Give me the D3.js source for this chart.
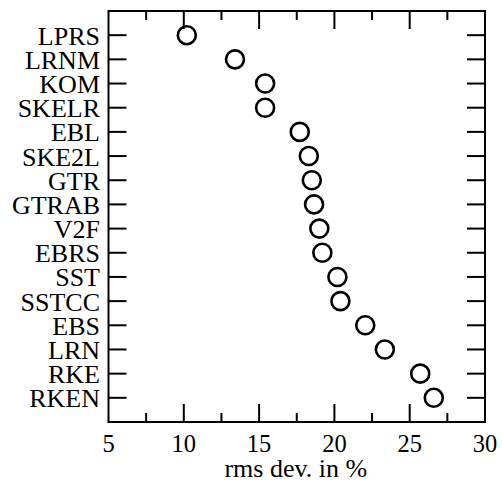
<!DOCTYPE html>
<html>
<head>
<meta charset="utf-8">
<script src="https://cdn.jsdelivr.net/npm/d3@7"></script>
</head>
<body style="margin:0">
<svg id="chart" width="502" height="482" font-family="Liberation Serif"></svg>
<script>
/* data */
const models=["LPRS","LRNM","KOM","SKELR","EBL","SKE2L","GTR","GTRAB","V2F","EBRS","SST","SSTCC","EBS","LRN","RKE","RKEN"];
const rmsDev=[10.2,13.4,15.4,15.4,17.7,18.3,18.5,18.65,19.0,19.2,20.2,20.4,22.05,23.35,25.7,26.6];
const xTicks=[5,10,15,20,25,30];
const xMinor=[7.5,12.5,17.5,22.5,27.5];

const FONT="Liberation Serif";
const svg=d3.select("#chart");
const L=108.5,R=485,T=11,B=422;
const x=d3.scaleLinear().domain([5,30]).range([L,R]);
const y=d3.scalePoint().domain(models).range([T,B]).padding(1);

/* ticks */
const g=svg.append("g").attr("stroke","#000").attr("stroke-width",2);
xTicks.slice(1,-1).forEach(v=>{
  g.append("line").attr("x1",x(v)).attr("x2",x(v)).attr("y1",B).attr("y2",B-18);
  g.append("line").attr("x1",x(v)).attr("x2",x(v)).attr("y1",T).attr("y2",T+18);
});
xMinor.forEach(v=>{
  g.append("line").attr("x1",x(v)).attr("x2",x(v)).attr("y1",B).attr("y2",B-9);
  g.append("line").attr("x1",x(v)).attr("x2",x(v)).attr("y1",T).attr("y2",T+9);
});
models.forEach(m=>{
  g.append("line").attr("x1",L).attr("x2",L+18).attr("y1",y(m)).attr("y2",y(m));
  g.append("line").attr("x1",R).attr("x2",R-18).attr("y1",y(m)).attr("y2",y(m));
});

/* frame */
svg.append("rect").attr("x",L).attr("y",T).attr("width",R-L).attr("height",B-T)
  .attr("fill","none").attr("stroke","#000").attr("stroke-width",2);

/* labels */
svg.append("g").selectAll("text").data(models).enter().append("text")
  .attr("x",100).attr("y",d=>y(d)+9.5).attr("text-anchor","end")
  .attr("font-family",FONT).attr("font-size",26).text(d=>d);
svg.append("g").selectAll("text").data(xTicks).enter().append("text")
  .attr("x",d=>x(d)).attr("y",452).attr("text-anchor","middle")
  .attr("font-family",FONT).attr("font-size",24.5).text(d=>d);
svg.append("text").attr("x",(L+R)/2-1).attr("y",477).attr("text-anchor","middle")
  .attr("font-family",FONT).attr("font-size",26).text("rms dev. in %");

/* points */
svg.append("g").selectAll("circle").data(models).enter().append("circle")
  .attr("cx",(d,i)=>x(rmsDev[i])).attr("cy",d=>y(d)).attr("r",9)
  .attr("fill","none").attr("stroke","#000").attr("stroke-width",2.6);
</script>
</body>
</html>
